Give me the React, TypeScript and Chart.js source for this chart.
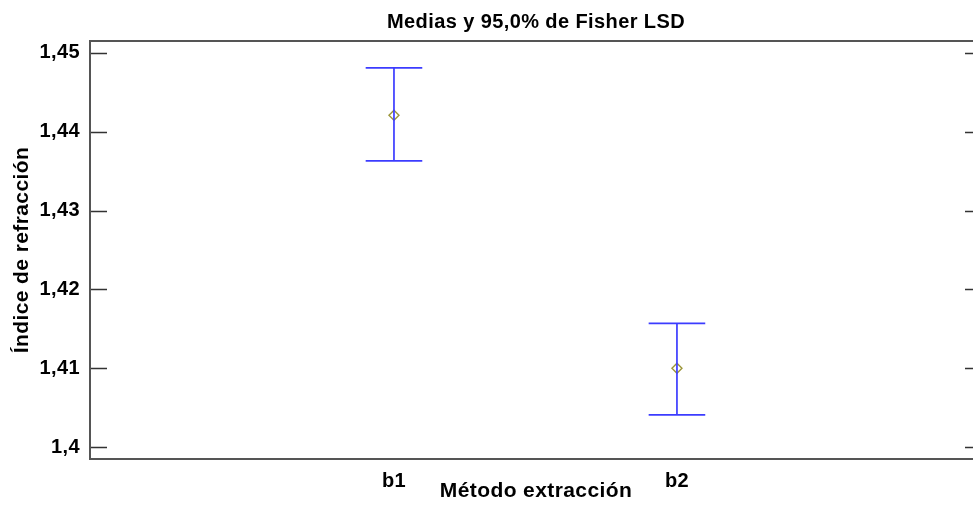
import React, { useEffect, useRef } from "react";
import { Chart, registerables } from "chart.js";

Chart.register(...registerables);

const categories = ["b1", "b2"];
const categoryPositions = [1, 2];
const means = [1.4421, 1.41];
const lowerLimits = [1.4363, 1.4041];
const upperLimits = [1.4481, 1.4157];
const yTickValues = [1.4, 1.41, 1.42, 1.43, 1.44, 1.45];

const capHalf = 0.1;
const barColor = "#3c3cff";
const markerColor = "#9c963a";
const FONT = "'Liberation Sans', Arial, sans-serif";
const SPACING = "0.4px";

const spacingPlugin = {
  id: "spacing",
  beforeUpdate(chart: any) {
    chart.ctx.letterSpacing = SPACING;
  },
  beforeLayout(chart: any) {
    chart.ctx.letterSpacing = SPACING;
  },
  beforeDraw(chart: any) {
    chart.ctx.letterSpacing = SPACING;
  },
};

const framePlugin = {
  id: "frame",
  afterDraw(chart: any) {
    const { ctx, chartArea } = chart;
    const y = chart.scales.y;
    ctx.save();
    ctx.strokeStyle = "#333";
    ctx.lineWidth = 1.5;
    y.ticks.forEach((t: any) => {
      const py = Math.round(y.getPixelForValue(t.value)) + 0.5;
      ctx.beginPath();
      ctx.moveTo(chartArea.left, py);
      ctx.lineTo(chartArea.left + 17, py);
      ctx.moveTo(chartArea.right - 17, py);
      ctx.lineTo(chartArea.right, py);
      ctx.stroke();
    });
    ctx.strokeStyle = "#555";
    ctx.lineWidth = 2;
    ctx.strokeRect(chartArea.left, chartArea.top, chartArea.right - chartArea.left, chartArea.bottom - chartArea.top);
    ctx.restore();
  },
};

export default function App() {
  const ref = useRef<HTMLCanvasElement>(null);
  useEffect(() => {
    if (!ref.current) return;
    const datasets: any[] = [];
    categoryPositions.forEach((x, i) => {
      const common = {
        showLine: true,
        borderColor: barColor,
        borderWidth: 1.7,
        pointRadius: 0,
        fill: false,
      };
      datasets.push({ ...common, data: [{ x, y: lowerLimits[i] }, { x, y: upperLimits[i] }] });
      datasets.push({ ...common, data: [{ x: x - capHalf, y: upperLimits[i] }, { x: x + capHalf, y: upperLimits[i] }] });
      datasets.push({ ...common, data: [{ x: x - capHalf, y: lowerLimits[i] }, { x: x + capHalf, y: lowerLimits[i] }] });
    });
    datasets.push({
      data: categoryPositions.map((x, i) => ({ x, y: means[i] })),
      showLine: false,
      pointStyle: "rectRot",
      pointRadius: 5,
      pointBorderColor: markerColor,
      pointBackgroundColor: "rgba(255,255,255,1)",
      pointBorderWidth: 1.4,
    });

    const chart = new Chart(ref.current, {
      type: "scatter",
      data: { datasets },
      plugins: [spacingPlugin, framePlugin],
      options: {
        animation: false,
        responsive: false,
        layout: { padding: { right: 18, left: 0, top: 0, bottom: 0 } },
        plugins: {
          legend: { display: false },
          tooltip: { enabled: false },
          title: {
            display: true,
            fullSize: false,
            text: "Medias y 95,0% de Fisher LSD",
            color: "#000",
            font: { family: FONT, size: 20, weight: "bold" },
            padding: { top: 10, bottom: 7 },
          },
        },
        scales: {
          x: {
            type: "linear",
            min: -0.0742,
            max: 3.078,
            afterFit(s: any) {
              s.height = 46;
            },
            afterBuildTicks(s: any) {
              s.ticks = categoryPositions.map((v) => ({ value: v }));
            },
            grid: { display: false, drawTicks: false },
            border: { display: false },
            ticks: {
              color: "#000",
              padding: 10,
              font: { family: FONT, size: 20, weight: "bold" },
              callback: (v: any) => {
                const idx = categoryPositions.indexOf(Number(v));
                return idx >= 0 ? categories[idx] : "";
              },
            },
            title: {
              display: true,
              text: "Método extracción",
              color: "#000",
              font: { family: FONT, size: 21, weight: "bold" },
              padding: { top: 0, bottom: 1 },
            },
          },
          y: {
            type: "linear",
            min: 1.3985,
            max: 1.4515,
            afterFit(s: any) {
              s.width = 90;
            },
            afterBuildTicks(s: any) {
              s.ticks = yTickValues.map((v) => ({ value: v }));
            },
            grid: { display: false, drawTicks: false },
            border: { display: false },
            ticks: {
              color: "#000",
              padding: 10,
              font: { family: FONT, size: 20, weight: "bold" },
              callback: (v: any) => String(Number(Number(v).toFixed(4))).replace(".", ","),
            },
            title: {
              display: true,
              text: "Índice de refracción",
              color: "#000",
              font: { family: FONT, size: 21, weight: "bold" },
              padding: { top: 10, bottom: 0 },
            },
          },
        },
      },
    } as any);
    return () => chart.destroy();
  }, []);

  return (
    <div style={{ position: "fixed", left: 0, top: 0, width: 973, height: 505, overflow: "hidden", background: "#fff" }}>
      <canvas ref={ref} width={1000} height={505} style={{ width: 1000, height: 505, display: "block" }} />
    </div>
  );
}
